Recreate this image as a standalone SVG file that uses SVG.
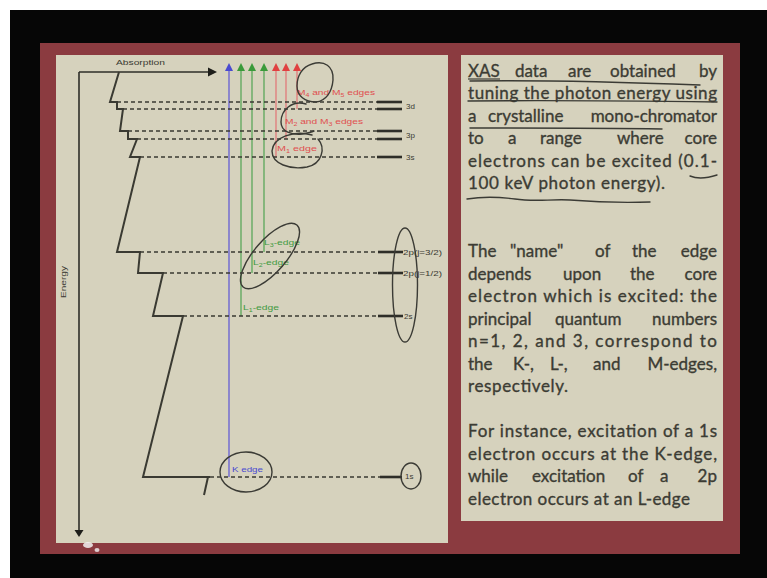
<svg xmlns="http://www.w3.org/2000/svg" width="767" height="578" viewBox="0 0 767 578">
<defs>
<style>
.ink{fill:none;stroke:#3b3b35;stroke-width:1.4;stroke-linecap:round}
.dash{fill:none;stroke:#3a3a32;stroke-width:1.6;stroke-dasharray:4 3}
.bar{stroke:#2e2e28;stroke-width:2.6}
.curve{fill:none;stroke:#3a3a32;stroke-width:2;stroke-linejoin:miter}
.lbl{font-family:"Liberation Sans",Arial,sans-serif;font-size:8px;fill:#3a3a32}
.red{font-family:"Liberation Sans",Arial,sans-serif;font-size:8px;fill:#e05050}
.grn{font-family:"Liberation Sans",Arial,sans-serif;font-size:8px;fill:#3f9a3f}
.blu{font-family:"Liberation Sans",Arial,sans-serif;font-size:8px;fill:#4a4ad0}
.p{font-family:Lato,"Liberation Sans",sans-serif;font-size:17px;fill:#3c3c34;stroke:#3c3c34;stroke-width:0.35}
.pe{font-family:Lato,"Liberation Sans",sans-serif;font-size:17px;fill:#3c3c34;stroke:#3c3c34;stroke-width:0.35;text-anchor:end}
</style>
</defs>
<rect width="767" height="578" fill="#ffffff"/>
<rect x="10" y="10" width="757" height="568" fill="#060606"/>
<rect x="40" y="43" width="700" height="511" fill="#8b3b40"/>
<rect x="56" y="55" width="392" height="488" fill="#d6d2bd"/>
<rect x="461" y="55" width="262" height="466" fill="#d6d2bd"/>

<g id="connectors">
  <line x1="79" y1="72" x2="209" y2="72" stroke="#2e2e28" stroke-width="1.6"/>
  <polygon points="208,67.5 217,72 208,76.5" fill="#1e1e1a"/>
  <line x1="79" y1="72" x2="79" y2="531" stroke="#2e2e28" stroke-width="1.6"/>
  <polygon points="74.5,530 83.5,530 79,537" fill="#1e1e1a"/>
  <line x1="229" y1="70" x2="229" y2="477" stroke="#7a74d0" stroke-width="1.6"/>
  <polygon points="229,63 225,71 233,71" fill="#4a4ad0"/>
  <line x1="241" y1="70" x2="241" y2="316" stroke="#5aa85a" stroke-width="1.3"/>
  <polygon points="241,63 237,71 245,71" fill="#3a9a3a"/>
  <line x1="252" y1="70" x2="252" y2="273" stroke="#5aa85a" stroke-width="1.3"/>
  <polygon points="252,63 248,71 256,71" fill="#3a9a3a"/>
  <line x1="264" y1="70" x2="264" y2="252" stroke="#5aa85a" stroke-width="1.3"/>
  <polygon points="264,63 260,71 268,71" fill="#3a9a3a"/>
  <line x1="276" y1="70" x2="276" y2="157" stroke="#e07a7a" stroke-width="1.3"/>
  <polygon points="276,63 272,71 280,71" fill="#e04040"/>
  <line x1="286" y1="70" x2="286" y2="139" stroke="#e07a7a" stroke-width="1.3"/>
  <polygon points="286,63 282,71 290,71" fill="#e04040"/>
  <line x1="297" y1="70" x2="297" y2="109" stroke="#e07a7a" stroke-width="1.3"/>
  <polygon points="297,63 293,71 301,71" fill="#e04040"/>
</g>

<g id="spectrum">
  <path class="curve" d="M119,72 L110,102 L117,102 L117,109 L123,109 L120,131 L128,131 L128,139 L137,139 L130,157 L140,157 L117,252 L140,252 L138,273 L163,273 L153,316 L183,316 L143,477 L210,477"/>
  <path class="curve" d="M208,477 L204,495"/>
</g>

<g id="levels">
  <g id="level-3d">
    <line class="dash" x1="117" y1="102" x2="377" y2="102"/>
    <line class="dash" x1="123" y1="109" x2="377" y2="109"/>
    <line class="bar" x1="377" y1="102" x2="402" y2="102"/>
    <line class="bar" x1="377" y1="109" x2="402" y2="109"/>
    <text class="lbl" x="406" y="109">3d</text>
  </g>
  <g id="level-3p">
    <line class="dash" x1="128" y1="131" x2="377" y2="131"/>
    <line class="dash" x1="137" y1="139" x2="377" y2="139"/>
    <line class="bar" x1="377" y1="131" x2="402" y2="131"/>
    <line class="bar" x1="377" y1="139" x2="402" y2="139"/>
    <text class="lbl" x="406" y="138">3p</text>
  </g>
  <g id="level-3s">
    <line class="dash" x1="140" y1="157" x2="377" y2="157"/>
    <line class="bar" x1="377" y1="157" x2="402" y2="157"/>
    <text class="lbl" x="406" y="160">3s</text>
  </g>
  <g id="level-2p32">
    <line class="dash" x1="140" y1="252" x2="378" y2="252"/>
    <line class="bar" x1="378" y1="252" x2="403" y2="252"/>
    <text class="lbl" x="403" y="255" font-size="6.5" textLength="39" lengthAdjust="spacingAndGlyphs">2p(j=3/2)</text>
  </g>
  <g id="level-2p12">
    <line class="dash" x1="163" y1="273" x2="378" y2="273"/>
    <line class="bar" x1="378" y1="273" x2="403" y2="273"/>
    <text class="lbl" x="403" y="276" font-size="6.5" textLength="39" lengthAdjust="spacingAndGlyphs">2p(j=1/2)</text>
  </g>
  <g id="level-2s">
    <line class="dash" x1="183" y1="316" x2="378" y2="316"/>
    <line class="bar" x1="378" y1="316" x2="403" y2="316"/>
    <text class="lbl" x="404" y="319">2s</text>
  </g>
  <g id="level-1s">
    <line class="dash" x1="210" y1="477" x2="380" y2="477"/>
    <line class="bar" x1="380" y1="477" x2="402" y2="477"/>
    <text class="lbl" x="405" y="479">1s</text>
  </g>
</g>

<g id="axis-labels">
  <text class="lbl" x="116" y="65" font-size="8.5" textLength="49" lengthAdjust="spacingAndGlyphs">Absorption</text>
  <text class="lbl" x="0" y="0" font-size="8" transform="translate(66,298) rotate(-90)" textLength="32" lengthAdjust="spacingAndGlyphs">Energy</text>
</g>

<g id="edge-labels">
  <text class="red" x="297" y="95" textLength="78" lengthAdjust="spacingAndGlyphs">M<tspan font-size="5.5" dy="2">4</tspan><tspan dy="-2"> and M</tspan><tspan font-size="5.5" dy="2">5</tspan><tspan dy="-2"> edges</tspan></text>
  <text class="red" x="285" y="124" textLength="78" lengthAdjust="spacingAndGlyphs">M<tspan font-size="5.5" dy="2">2</tspan><tspan dy="-2"> and M</tspan><tspan font-size="5.5" dy="2">3</tspan><tspan dy="-2"> edges</tspan></text>
  <text class="red" x="277" y="151" textLength="40" lengthAdjust="spacingAndGlyphs">M<tspan font-size="5.5" dy="2">1</tspan><tspan dy="-2"> edge</tspan></text>
  <text class="grn" x="264" y="245" textLength="36" lengthAdjust="spacingAndGlyphs">L<tspan font-size="5.5" dy="2">3</tspan><tspan dy="-2">-edge</tspan></text>
  <text class="grn" x="253" y="265" textLength="36" lengthAdjust="spacingAndGlyphs">L<tspan font-size="5.5" dy="2">2</tspan><tspan dy="-2">-edge</tspan></text>
  <text class="grn" x="243" y="310" textLength="36" lengthAdjust="spacingAndGlyphs">L<tspan font-size="5.5" dy="2">1</tspan><tspan dy="-2">-edge</tspan></text>
  <text class="blu" x="232" y="472" textLength="31" lengthAdjust="spacingAndGlyphs">K edge</text>
</g>

<g id="annotations">
  <path class="ink" d="M312,64 C324,60 334,66 333,80 C332,92 326,101 316,102 C305,102 297,96 297,86 C297,76 302,67 312,64 Z"/>
  <path class="ink" d="M306,104 C292,100 281,110 281,122 C281,132 292,135 302,134 C308,133 312,132 314,131"/>
  <path class="ink" d="M312,135 C294,130 273,137 272,151 C272,164 290,170 307,167 C322,164 326,148 318,139"/>
  <ellipse class="ink" cx="270" cy="256" rx="41" ry="16" transform="rotate(-49 270 256)"/>
  <ellipse class="ink" cx="405" cy="285" rx="12.5" ry="57"/>
  <ellipse class="ink" cx="246" cy="472" rx="26" ry="20"/>
  <ellipse class="ink" cx="411" cy="476" rx="10" ry="13"/>
</g>

<g id="text-panel">
  <g id="para1">
    <text class="p" x="468" y="77">XAS</text>
    <text class="p" x="515" y="77">data</text>
    <text class="p" x="568" y="77">are</text>
    <text class="p" x="610" y="77">obtained</text>
    <text class="pe" x="717" y="77">by</text>
    <text class="p" x="468" y="99" textLength="249" lengthAdjust="spacing">tuning the photon energy using</text>
    <text class="p" x="468" y="122">a</text>
    <text class="p" x="488" y="122">crystalline</text>
    <text class="pe" x="717" y="122">mono-chromator</text>
    <text class="p" x="468" y="144">to</text>
    <text class="p" x="508" y="144">a</text>
    <text class="p" x="540" y="144">range</text>
    <text class="p" x="617" y="144">where</text>
    <text class="pe" x="717" y="144">core</text>
    <text class="p" x="468" y="167" textLength="249" lengthAdjust="spacing">electrons can be excited (0.1-</text>
    <text class="p" x="468" y="189" textLength="197" lengthAdjust="spacing">100 keV photon energy).</text>
  </g>
  <g id="para2">
    <text class="p" x="468" y="257">The</text>
    <text class="p" x="510" y="257">"name"</text>
    <text class="p" x="595" y="257">of</text>
    <text class="p" x="632" y="257">the</text>
    <text class="pe" x="717" y="257">edge</text>
    <text class="p" x="468" y="280">depends</text>
    <text class="p" x="563" y="280">upon</text>
    <text class="p" x="630" y="280">the</text>
    <text class="pe" x="717" y="280">core</text>
    <text class="p" x="468" y="302" textLength="249" lengthAdjust="spacing">electron which is excited: the</text>
    <text class="p" x="468" y="325">principal</text>
    <text class="p" x="555" y="325">quantum</text>
    <text class="pe" x="717" y="325">numbers</text>
    <text class="p" x="468" y="347" textLength="249" lengthAdjust="spacing">n=1, 2, and 3, correspond to</text>
    <text class="p" x="468" y="370">the</text>
    <text class="p" x="513" y="370">K-,</text>
    <text class="p" x="550" y="370">L-,</text>
    <text class="p" x="593" y="370">and</text>
    <text class="pe" x="717" y="370">M-edges,</text>
    <text class="p" x="468" y="392" textLength="100" lengthAdjust="spacing">respectively.</text>
  </g>
  <g id="para3">
    <text class="p" x="468" y="437" textLength="249" lengthAdjust="spacing">For instance, excitation of a 1s</text>
    <text class="p" x="468" y="460" textLength="249" lengthAdjust="spacing">electron occurs at the K-edge,</text>
    <text class="p" x="468" y="482">while</text>
    <text class="p" x="532" y="482">excitation</text>
    <text class="p" x="628" y="482">of</text>
    <text class="p" x="660" y="482">a</text>
    <text class="pe" x="717" y="482">2p</text>
    <text class="p" x="468" y="505" textLength="222" lengthAdjust="spacing">electron occurs at an L-edge</text>
  </g>
  <g id="underlines">
    <line x1="468" y1="79" x2="500" y2="79" stroke="#3b3b35" stroke-width="1.2"/>
    <path class="ink" d="M470,81 C540,80 620,82 700,85"/>
    <path class="ink" d="M468,101 C550,100 640,101 717,102"/>
    <path class="ink" d="M470,128 C540,128 600,128 662,129"/>
    <path class="ink" d="M690,176 C697,179 705,179 717,175"/>
    <path class="ink" d="M467,199 C485,196 500,197 515,199 C535,202 550,199 570,200 C595,202 620,203 650,202"/>
  </g>
</g>

<g id="glare">
  <ellipse cx="88" cy="545" rx="5" ry="3" fill="#f2f2f2" opacity="0.85"/>
  <ellipse cx="97" cy="550" rx="2.5" ry="2" fill="#f2f2f2" opacity="0.8"/>
</g>
</svg>
